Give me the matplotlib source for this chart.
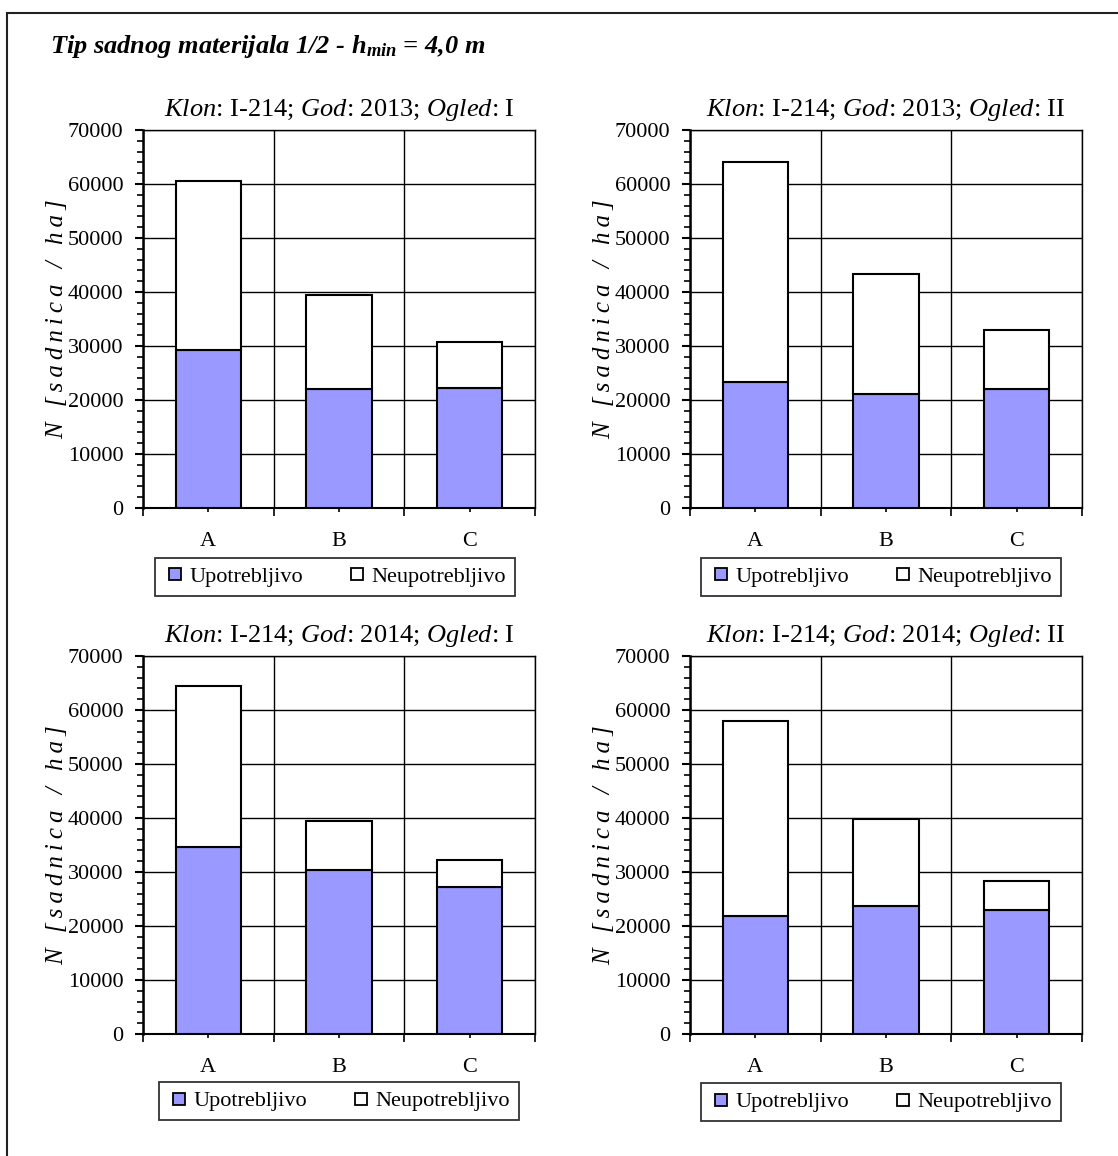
import matplotlib
matplotlib.use('Agg')
import matplotlib.pyplot as plt
from matplotlib.ticker import MultipleLocator, FixedLocator
from matplotlib.lines import Line2D
from matplotlib.patches import Rectangle

plt.rcParams['font.family'] = ['Liberation Serif', 'DejaVu Serif']
plt.rcParams['mathtext.fontset'] = 'custom'
plt.rcParams['mathtext.rm'] = 'Liberation Serif'
plt.rcParams['mathtext.it'] = 'Liberation Serif:italic'
plt.rcParams['mathtext.bf'] = 'Liberation Serif:bold:italic'

# ---------------- data ----------------
categories = ['A', 'B', 'C']
series_names = ['Upotrebljivo', 'Neupotrebljivo']

title_main = r'Tip sadnog materijala 1/2 - $\mathbf{h_{min}}$ = 4,0 m'
panel_titles = [
    r'$\mathit{Klon}$: I-214; $\mathit{God}$: 2013; $\mathit{Ogled}$: I',
    r'$\mathit{Klon}$: I-214; $\mathit{God}$: 2013; $\mathit{Ogled}$: II',
    r'$\mathit{Klon}$: I-214; $\mathit{God}$: 2014; $\mathit{Ogled}$: I',
    r'$\mathit{Klon}$: I-214; $\mathit{God}$: 2014; $\mathit{Ogled}$: II',
]
y_label = 'N [sadnica / ha]'

usable_2013_I = [29300, 22000, 22200]
unusable_2013_I = [31200, 17500, 8600]
usable_2013_II = [23400, 21200, 22000]
unusable_2013_II = [40600, 22200, 11000]
usable_2014_I = [34700, 30400, 27300]
unusable_2014_I = [29700, 9000, 4900]
usable_2014_II = [21900, 23700, 23000]
unusable_2014_II = [36100, 16100, 5400]

usable_all = [usable_2013_I, usable_2013_II, usable_2014_I, usable_2014_II]
unusable_all = [unusable_2013_I, unusable_2013_II, unusable_2014_I, unusable_2014_II]

y_ticks = [0, 10000, 20000, 30000, 40000, 50000, 60000, 70000]

# ---------------- layout ----------------
W, H = 1118, 1156
fig = plt.figure(figsize=(W / 100, H / 100), dpi=100)
fig.patch.set_facecolor('white')

usable_color = '#9999FF'

# (left, right, top, bottom) in pixels
axes_px = [
    (143, 535, 130, 508),
    (690, 1082, 130, 508),
    (143, 535, 656, 1034),
    (690, 1082, 656, 1034),
]
legend_centers = [(335, 577), (881, 577), (339, 1101), (881, 1102)]

# outer frame
fig.add_artist(Rectangle((7 / W, -0.1), 1.2, 1 - 13 / H + 0.1,
                         transform=fig.transFigure, fill=False,
                         edgecolor='#222222', linewidth=1.5))

fig.text(50 / W, 1 - 47 / H, title_main, fontsize=19, fontweight='bold',
         style='italic', ha='left', va='center')

# slightly letter-spaced y label, as in the original
spaced_ylabel = '\u2009'.join(y_label)

x = list(range(len(categories)))
for i, (l, r, t, b) in enumerate(axes_px):
    ax = fig.add_axes([l / W, 1 - b / H, (r - l) / W, (b - t) / H])
    ax.bar(x, usable_all[i], width=0.5, color=usable_color,
           edgecolor='black', linewidth=1.5, zorder=3, label=series_names[0])
    ax.bar(x, unusable_all[i], width=0.5, bottom=usable_all[i], color='white',
           edgecolor='black', linewidth=1.5, zorder=3, label=series_names[1])
    ax.set_xlim(-0.5, len(categories) - 0.5)
    ax.set_ylim(0, 70000)
    ax.set_yticks(y_ticks)
    ax.set_yticklabels([str(v) for v in y_ticks])
    ax.yaxis.set_minor_locator(MultipleLocator(2000))
    ax.set_xticks(x)
    ax.set_xticklabels(categories)
    ax.xaxis.set_minor_locator(FixedLocator([-0.5, 0.5, 1.5, 2.5]))
    ax.tick_params(axis='x', which='major', length=3, width=1.2, pad=14,
                   labelsize=16, direction='out')
    ax.tick_params(axis='x', which='minor', length=6, width=1.2, direction='out')
    ax.tick_params(axis='y', which='major', length=6, width=1.5, pad=8,
                   labelsize=16, direction='out')
    ax.tick_params(axis='y', which='minor', length=4, width=1.2, direction='out')
    ax.grid(True, axis='y', which='major', color='black', linewidth=1.0, zorder=0)
    ax.grid(True, axis='x', which='minor', color='black', linewidth=1.0, zorder=0)
    ax.set_axisbelow(True)
    for side, sp in ax.spines.items():
        sp.set_color('black')
        sp.set_linewidth(1.0)
    ax.spines['left'].set_linewidth(1.8)
    ax.spines['bottom'].set_linewidth(1.5)
    ax.set_title(panel_titles[i], fontsize=19, pad=10)
    ax.set_ylabel(spaced_ylabel, fontsize=18, style='italic')
    ax.yaxis.set_label_coords(-0.19, 0.5)

    handles = [
        Line2D([], [], linestyle='none', marker='s', markersize=8.5,
               markerfacecolor=usable_color, markeredgecolor='black',
               markeredgewidth=1.3),
        Line2D([], [], linestyle='none', marker='s', markersize=8.5,
               markerfacecolor='white', markeredgecolor='black',
               markeredgewidth=1.3),
    ]
    cx, cy = legend_centers[i]
    leg = fig.legend(handles, series_names, loc='center',
                     bbox_to_anchor=(cx / W, 1 - cy / H),
                     bbox_transform=fig.transFigure, ncol=2, fontsize=16,
                     frameon=True, fancybox=False, shadow=False,
                     handlelength=1.0, handletextpad=0.15, columnspacing=1.9,
                     borderpad=0.4)
    leg.get_frame().set_edgecolor('black')
    leg.get_frame().set_linewidth(1.3)

fig.savefig('out.png', dpi=100, facecolor='white')
